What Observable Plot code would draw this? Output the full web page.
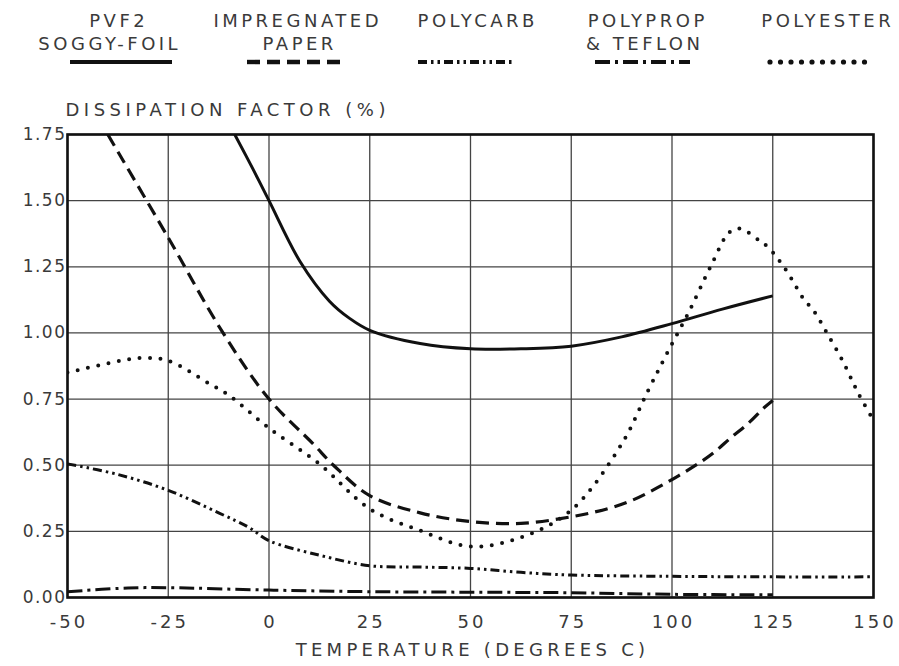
<!DOCTYPE html>
<html>
<head>
<meta charset="utf-8">
<script src="https://cdn.jsdelivr.net/npm/d3@7"></script>
<script src="https://cdn.jsdelivr.net/npm/@observablehq/plot@0.6"></script>
<style>
  html, body { margin: 0; padding: 0; background: #fff; }
  #wrap { position: relative; width: 899px; height: 666px; font-family: "DejaVu Sans", sans-serif; color: #3a3a3a; }
  #wrap svg.plot { position: absolute; left: 0; top: 0; }
  .legtxt { position: absolute; width: 240px; text-align: center; font-size: 18px; letter-spacing: 3.5px; line-height: 20px; white-space: nowrap; }
  .legsample { position: absolute; }
</style>
</head>
<body>
<div id="wrap"></div>
<script>
// ---- data ----
const seriesNames = ["PVF2 SOGGY-FOIL", "IMPREGNATED PAPER", "POLYCARB", "POLYPROP & TEFLON", "POLYESTER"];
const legendLine1 = ["PVF2", "IMPREGNATED", "POLYCARB", "POLYPROP", "POLYESTER"];
const legendLine2 = ["SOGGY-FOIL", "PAPER", "", "& TEFLON", ""];

const pvf2Temp = [-8.5, -4, 0, 7.7, 15, 20, 25, 37.5, 50, 62.5, 75, 87.5, 100, 112.5, 125];
const pvf2DF   = [1.75, 1.62, 1.50, 1.27, 1.12, 1.055, 1.01, 0.96, 0.94, 0.94, 0.95, 0.985, 1.035, 1.09, 1.14];

const paperTemp = [-40, -25, -11.4, 0, 11, 16, 25, 37.5, 50, 62.5, 75, 84.1, 90.5, 96.5, 101.7, 106.5, 110.4, 114.7, 118.9, 122.9, 125];
const paperDF   = [1.75, 1.36, 1.00, 0.75, 0.58, 0.50, 0.385, 0.32, 0.287, 0.28, 0.305, 0.336, 0.37, 0.416, 0.461, 0.506, 0.548, 0.605, 0.658, 0.718, 0.745];

const polycarbTemp = [-50, -37.5, -25, -12.5, -5, 0, 12.5, 25, 37.5, 50, 62.5, 75, 100, 125, 150];
const polycarbDF   = [0.505, 0.465, 0.405, 0.32, 0.265, 0.215, 0.16, 0.12, 0.115, 0.11, 0.095, 0.085, 0.08, 0.078, 0.078];

const polypropTemp = [-50, -35, -25, 0, 25, 50, 75, 100, 125];
const polypropDF   = [0.022, 0.036, 0.037, 0.028, 0.022, 0.02, 0.018, 0.012, 0.01];

const polyesterTemp = [-50, -40, -32, -25, -15, -10, 0, 12.5, 25, 37.5, 50, 62.5, 75, 87.5, 94, 99, 104.2, 109.7, 114.2, 116.7, 121.6, 124.1, 128.4, 132.6, 135.1, 138.8, 142.5, 145.3, 147, 150];
const polyesterDF   = [0.85, 0.885, 0.905, 0.895, 0.81, 0.765, 0.64, 0.505, 0.335, 0.253, 0.193, 0.227, 0.33, 0.58, 0.78, 0.93, 1.08, 1.255, 1.38, 1.395, 1.35, 1.32, 1.235, 1.13, 1.085, 0.99, 0.89, 0.80, 0.75, 0.67];

const xTicks = [-50, -25, 0, 25, 50, 75, 100, 125, 150];
const yTicks = [0, 0.25, 0.5, 0.75, 1.0, 1.25, 1.5, 1.75];
const xTitle = "TEMPERATURE (DEGREES C)";
const yTitle = "DISSIPATION FACTOR (%)";

// ---- styles & layout (not data) ----
const styles = [
  {dash: null, width: 3, cap: "butt"},
  {dash: "13,7", width: 3.2, cap: "butt"},
  {dash: "9,4,2.5,4,2.5,4", width: 3, cap: "butt"},
  {dash: "15,5,3,5", width: 3, cap: "butt"},
  {dash: "0,10.5", width: 4, cap: "round"}
];
const legendLine1Centers = [117, 296, 476, 646, 826];
const legendLine2Centers = [108, 298, 0, 643, 0];
const legendSampleSpans = [[70, 172], [247, 347], [418, 515], [595, 690], [770, 868]];

const toRows = (xs, ys) => xs.map((t, i) => ({t, v: ys[i]}));
const allSeries = [
  toRows(pvf2Temp, pvf2DF),
  toRows(paperTemp, paperDF),
  toRows(polycarbTemp, polycarbDF),
  toRows(polypropTemp, polypropDF),
  toRows(polyesterTemp, polyesterDF)
];

const lineMarks = allSeries.map((rows, i) => Plot.line(rows, {
  x: "t", y: "v", curve: "catmull-rom", stroke: "#111",
  strokeWidth: styles[i].width,
  strokeDasharray: styles[i].dash || undefined,
  strokeLinecap: styles[i].cap,
  clip: true
}));

const plot = Plot.plot({
  width: 899,
  height: 666,
  marginLeft: 67,
  marginRight: 26,
  marginTop: 134,
  marginBottom: 69,
  style: {fontFamily: "DejaVu Sans, sans-serif", fontSize: "17px", color: "#3a3a3a", background: "#fff"},
  x: {domain: [-50, 150], label: null},
  y: {domain: [0, 1.75], label: null},
  marks: [
    Plot.gridX(xTicks, {stroke: "#444", strokeOpacity: 1, strokeWidth: 1.3}),
    Plot.gridY(yTicks, {stroke: "#444", strokeOpacity: 1, strokeWidth: 1.3}),
    Plot.axisX({ticks: xTicks, tickSize: 0, tickPadding: 18, tickFormat: d => String(d), label: null, fontSize: 18, dx: 1.5}),
    Plot.axisY({ticks: yTicks, tickSize: 0, tickPadding: 1, tickFormat: d3.format(".2f"), label: null}),
    ...lineMarks,
    Plot.frame({stroke: "#111", strokeWidth: 2.6}),
    Plot.text([xTitle], {text: d => d, frameAnchor: "bottom", dy: 58, dx: 2, fill: "#3a3a3a", fontSize: 18}),
    Plot.text([yTitle], {text: d => d, frameAnchor: "top-left", textAnchor: "start", dy: -31, dx: -2, fill: "#3a3a3a", fontSize: 18})
  ]
});
plot.classList.add("plot");
const sel = d3.select(plot);
sel.selectAll('g[aria-label="x-axis tick label"] text').style("letter-spacing", "3px");
sel.selectAll('g[aria-label="y-axis tick label"] text').style("letter-spacing", "1.5px");
sel.selectAll("text").filter(function () { return this.textContent === xTitle; }).style("letter-spacing", "4.3px");
sel.selectAll("text").filter(function () { return this.textContent === yTitle; }).style("letter-spacing", "4.5px");
const wrap = document.getElementById("wrap");
wrap.appendChild(plot);

// legend (HTML above the plot area)
seriesNames.forEach((name, i) => {
  const l1 = document.createElement("div");
  l1.className = "legtxt";
  l1.style.left = (legendLine1Centers[i] - 120 + 1.75) + "px";
  l1.style.top = "11px";
  l1.textContent = legendLine1[i];
  wrap.appendChild(l1);
  if (legendLine2[i]) {
    const l2 = document.createElement("div");
    l2.className = "legtxt";
    l2.style.left = (legendLine2Centers[i] - 120 + 1.75) + "px";
    l2.style.top = "34px";
    l2.textContent = legendLine2[i];
    wrap.appendChild(l2);
  }
  const [a, b] = legendSampleSpans[i];
  const s = styles[i];
  const svg = d3.create("svg").attr("class", "legsample").attr("width", b - a + 6).attr("height", 12)
    .style("left", (a - 3) + "px").style("top", "56px");
  svg.append("line").attr("x1", 3).attr("x2", b - a + 3).attr("y1", 6).attr("y2", 6)
    .attr("stroke", "#111").attr("stroke-width", s.width + 1.2)
    .attr("stroke-linecap", s.cap)
    .attr("stroke-dasharray", s.dash);
  wrap.appendChild(svg.node());
});
</script>
</body>
</html>
